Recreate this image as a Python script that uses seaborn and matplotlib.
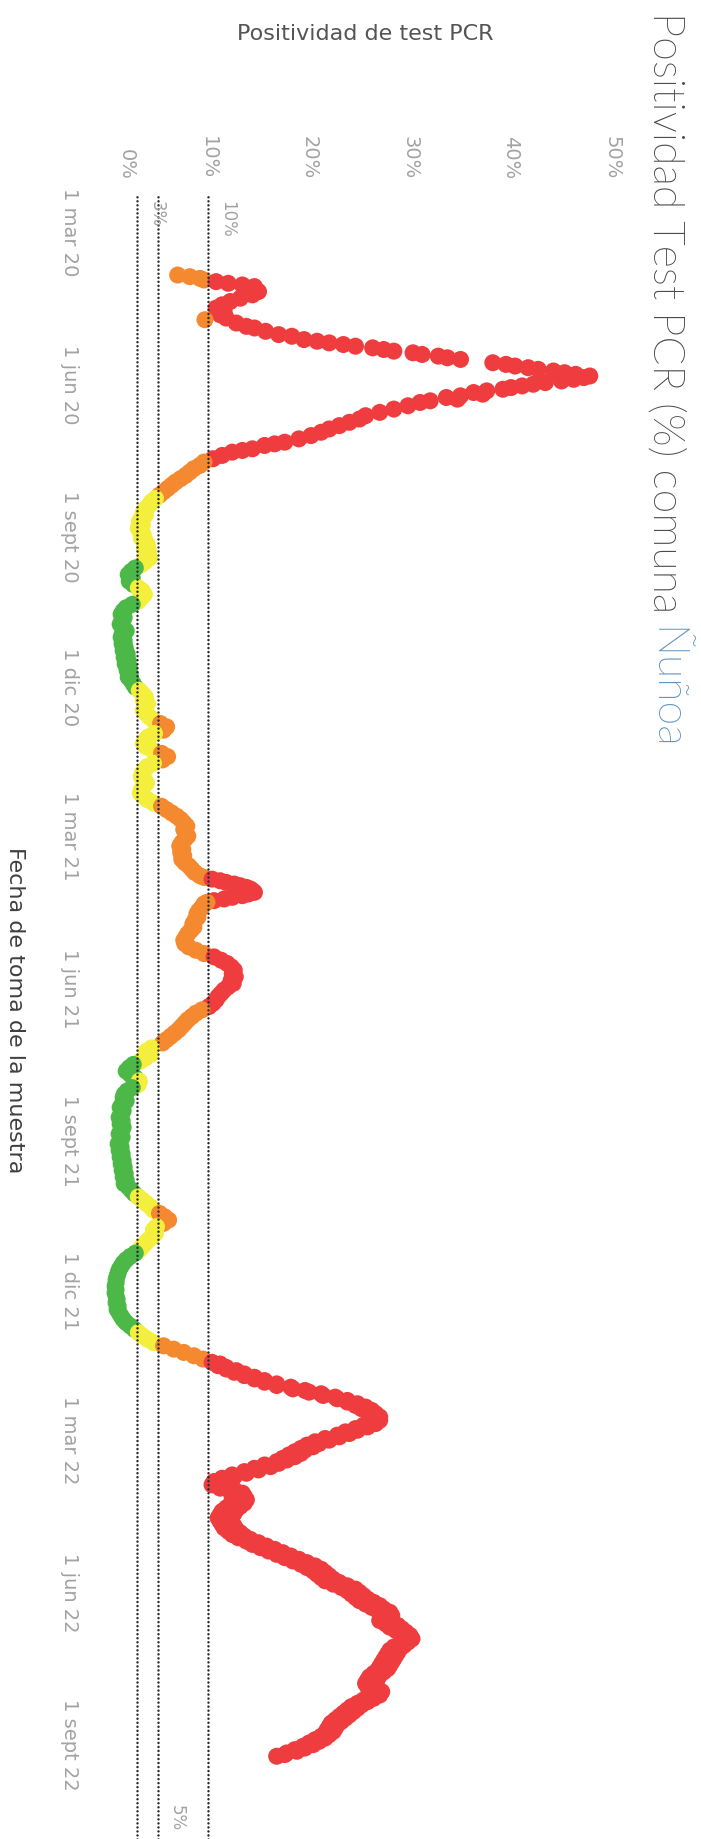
import numpy as np
import pandas as pd
import matplotlib
matplotlib.use("Agg")
import matplotlib.pyplot as plt
import matplotlib.dates as mdates
from matplotlib import font_manager as fm
import seaborn as sns

# ---------------- data ----------------
fecha_inicio = "2020-03-01"          # day 0 of the day offsets below

# first wave 2020 (irregular reporting)
dias_1 = [26, 27, 28, 29, 30, 31, 32, 33, 34, 36, 38, 40, 42, 44, 46, 48, 50, 52,
          53, 55, 57, 58, 60, 62, 63, 65, 66, 67, 68, 69, 70, 71, 72, 73, 74, 75,
          76, 77, 79, 80, 81, 82, 83, 84, 85, 86, 87, 88, 89, 90, 91, 92, 93, 94,
          95, 96, 97, 98, 99, 100, 101, 102, 103, 105, 107, 109, 111, 113, 115,
          117, 119, 121, 123, 125, 127, 128, 129, 131, 132, 133, 135, 137]
pos_1 = [7.0, 8.2, 9.2, 9.6, 10.8, 12.0, 13.4, 14.6, 14.2, 15.0, 14.4, 13.2, 12.2,
         11.4, 10.8, 11.6, 11.2, 11.8, 9.7, 12.8, 13.8, 14.6, 15.7, 17.0, 18.3,
         19.5, 20.8, 22.0, 23.4, 24.6, 26.3, 27.4, 28.4, 30.3, 31.2, 32.8, 33.7,
         35.0, 38.2, 39.5, 40.4, 41.7, 42.7, 44.2, 45.3, 46.4, 47.8, 47.2, 46.2,
         45.0, 43.4, 42.2, 41.1, 40.0, 39.2, 37.6, 36.3, 37.2, 35.0, 33.6, 34.7,
         32.0, 31.0, 29.8, 28.4, 27.0, 25.6, 25.0, 24.0, 23.0, 22.0, 21.2, 20.2,
         19.0, 17.6, 16.6, 15.6, 14.4, 13.4, 12.4, 11.4, 10.5]

# Jul 2020 - Nov 2020 (every second day)
dias_2 = list(range(139, 276, 2))
pos_2 = [9.6, 9.2, 8.6, 8.2, 7.8, 7.3, 6.8, 6.4, 6.0, 5.6,
         5.2, 4.8, 4.4, 4.2, 3.9, 3.6, 3.8, 3.4, 3.2, 3.5,
         3.1, 3.3, 3.6, 3.4, 3.8, 4.0, 3.7, 4.1, 3.9, 4.2,
         3.8, 3.4, 2.8, 2.4, 2.1, 2.5, 2.2, 2.6, 3.1, 3.5,
         3.7, 3.4, 3.1, 2.5, 1.9, 1.6, 1.4, 1.7, 1.5, 1.3,
         1.6, 1.9, 1.5, 1.4, 1.7, 1.5, 1.8, 1.6, 2.0, 1.7,
         2.1, 1.8, 2.2, 2.0, 2.3, 2.1, 2.4, 2.6, 2.8]

# Dec 2020 - Mar 2021
dias_3 = list(range(277, 390, 2))
pos_3 = [3.2, 3.5, 3.8, 3.6, 4.0, 3.8, 3.6, 3.9, 4.2, 4.6,
         5.3, 5.9, 5.6, 4.7, 4.1, 3.8, 3.6, 3.9, 4.5, 5.4,
         6.0, 5.5, 4.6, 4.0, 3.7, 3.5, 3.4, 3.7, 3.9, 3.6,
         3.4, 3.3, 3.6, 4.0, 4.6, 5.4, 5.9, 6.4, 6.9, 7.3,
         7.6, 7.9, 7.6, 7.8, 8.0, 7.7, 7.4, 7.2, 7.5, 7.3,
         7.6, 7.4, 7.7, 8.1, 8.4, 8.7, 9.2]

# Mar 2021 - Jul 2021 (daily around the March peak)
dias_4 = list(range(390, 407)) + list(range(408, 492, 2))
pos_4 = [9.6, 10.4, 11.2, 11.8, 12.6, 13.2, 13.8, 14.2, 14.4, 14.6,
         14.0, 13.4, 12.4, 11.6, 10.6, 9.9, 9.6,
         9.4, 9.1, 8.9, 9.0, 8.7, 8.5, 8.6, 8.3, 8.0, 7.8,
         7.6, 7.7, 8.1, 8.8, 9.6, 10.6, 11.3, 11.9, 12.3, 12.6,
         12.4, 12.7, 12.3, 12.5, 12.0, 11.6, 11.3, 11.0, 10.8, 10.5,
         10.1, 9.4, 8.8, 8.4, 8.0, 7.7, 7.4, 7.1, 6.7, 6.3,
         5.9, 5.5]

# Jul 2021 - Jan 2022
dias_5 = list(range(493, 682, 2))
pos_5 = [4.4, 3.9, 4.3, 3.8, 3.3, 2.6, 2.2, 1.9, 2.3, 2.8,
         3.2, 3.1, 2.5, 2.0, 1.7, 1.6, 1.9, 1.5, 1.3, 1.6,
         1.4, 1.2, 1.5, 1.3, 1.6, 1.4, 1.2, 1.5, 1.3, 1.1,
         1.4, 1.2, 1.5, 1.3, 1.6, 1.4, 1.7, 1.5, 1.8, 1.6,
         1.9, 1.7, 2.1, 2.4, 2.7, 3.1, 3.5, 3.9, 4.3, 4.6,
         5.2, 5.7, 6.1, 5.6, 4.9, 4.6, 4.8, 4.5, 4.1, 3.8,
         3.5, 3.2, 2.8, 2.3, 1.9, 1.6, 1.4, 1.2, 1.1, 1.0,
         0.9, 0.9, 0.8, 0.9, 0.8, 0.9, 1.0, 0.9, 1.1, 1.0,
         1.2, 1.4, 1.6, 1.9, 2.3, 2.7, 3.1, 3.5, 4.0, 4.6,
         5.6, 6.6, 7.6, 8.6, 9.5]

# 2022 (daily)
dias_6 = list(range(683, 922))
pos_6 = [10.4, 11.2, 11.0, 11.8, 11.8, 12.8, 12.6, 13.6, 13.6, 14.6,
         14.6, 15.6, 15.6, 16.8, 16.8, 18.2, 18.4, 19.6, 20.0, 21.2,
         21.4, 22.6, 22.8, 23.8, 23.8, 24.8, 24.6, 25.6, 25.2, 26.2,
         25.8, 26.6, 26.2, 27.0, 26.4, 27.0, 26.2, 26.6, 25.4, 25.8,
         24.6, 24.8, 23.6, 24.0, 22.8, 23.0, 21.6, 22.0, 20.6, 21.0,
         19.8, 20.4, 19.2, 19.6, 18.6, 19.2, 18.0, 18.6, 17.4, 17.8,
         16.8, 17.0, 15.6, 16.2, 14.6, 15.0, 13.6, 13.8, 12.4, 12.6,
         11.4, 11.8, 10.6, 11.2, 10.4, 11.6, 11.2, 12.6, 12.2, 13.4,
         12.6, 13.6, 12.4, 13.8, 12.6, 13.6, 12.2, 13.2, 11.8, 12.8,
         11.4, 12.6, 11.2, 12.4, 11.0, 12.2, 11.2, 12.4, 11.4, 12.6,
         11.6, 12.8, 12.0, 13.2, 12.4, 13.6, 13.0, 14.2, 13.8, 15.0,
         14.4, 15.8, 15.2, 16.6, 16.0, 17.4, 16.8, 18.2, 17.6, 19.0,
         18.4, 19.8, 19.2, 20.6, 19.8, 21.2, 20.4, 21.6, 20.8, 22.0,
         21.2, 22.4, 21.6, 23.0, 22.4, 23.8, 23.2, 24.6, 23.8, 25.0,
         24.2, 25.4, 24.6, 25.8, 25.0, 26.4, 25.6, 27.0, 26.2, 27.4,
         26.8, 28.0, 27.2, 28.2, 27.4, 27.8, 27.0, 28.2, 27.6, 28.8,
         28.0, 29.2, 28.6, 29.6, 29.2, 30.0, 29.4, 30.2, 29.6, 29.8,
         29.0, 29.4, 28.4, 29.0, 28.0, 28.8, 27.8, 28.6, 27.6, 28.4,
         27.4, 28.2, 27.2, 28.0, 27.0, 27.8, 26.8, 27.4, 26.4, 27.0,
         26.0, 26.8, 25.8, 26.6, 25.6, 26.6, 25.8, 26.8, 26.2, 27.2,
         26.4, 27.0, 26.0, 26.4, 25.4, 25.8, 24.8, 25.2, 24.2, 24.8,
         23.8, 24.4, 23.4, 24.0, 23.0, 23.6, 22.6, 23.2, 22.2, 22.8,
         22.0, 22.6, 21.8, 22.4, 21.6, 22.0, 21.2, 21.6, 20.6, 21.0,
         20.0, 20.4, 19.4, 19.6, 18.6, 18.8, 17.8, 17.6, 16.8]

ticks_fecha = ["2020-03-01", "2020-06-01", "2020-09-01", "2020-12-01",
               "2021-03-01", "2021-06-01", "2021-09-01", "2021-12-01",
               "2022-03-01", "2022-06-01", "2022-09-01"]
etiquetas_fecha = ["1 mar 20", "1 jun 20", "1 sept 20", "1 dic 20",
                   "1 mar 21", "1 jun 21", "1 sept 21", "1 dic 21",
                   "1 mar 22", "1 jun 22", "1 sept 22"]
ticks_pct = [0, 10, 20, 30, 40, 50]
etiquetas_pct = ["0%", "10%", "20%", "30%", "40%", "50%"]
lineas_ref = [3, 5, 10]
etiquetas_ref = ["3%", "5%", "10%"]
niveles = ["verde", "amarillo", "naranja", "rojo"]
umbrales = [3, 5, 10]

# ---------------- table ----------------
dias = dias_1 + dias_2 + dias_3 + dias_4 + dias_5 + dias_6
pos = pos_1 + pos_2 + pos_3 + pos_4 + pos_5 + pos_6
assert len(dias) == len(pos)
t0 = pd.Timestamp(fecha_inicio)
df = pd.DataFrame({
    "fecha": t0 + pd.to_timedelta(dias, unit="D"),
    "positividad": pos,
})
df["nivel"] = np.select(
    [df["positividad"] < umbrales[0], df["positividad"] < umbrales[1],
     df["positividad"] < umbrales[2]],
    niveles[:3], niveles[3])
df["fecha_num"] = mdates.date2num(df["fecha"].dt.to_pydatetime())

paleta = {"verde": "#4cb848", "amarillo": "#f3ef3c",
          "naranja": "#f5892f", "rojo": "#ef3d3f"}

# ---------------- fonts ----------------
sns.set_style("white")
plt.rcParams["font.family"] = ["DejaVu Sans"]


def find_light():
    for fam in ["Lato", "Open Sans", "Roboto", "Noto Sans", "Inter", "DejaVu Sans"]:
        for f in fm.fontManager.ttflist:
            w = f.weight
            if not isinstance(w, (int, float)):
                w = fm.weight_dict.get(w, 400)
            if f.name == fam and 200 <= w <= 350 and f.style == "normal":
                return fam, int(w)
    return "DejaVu Sans", 400


light_fam, light_w = find_light()
light_font = dict(family=light_fam, weight=light_w)

# ---------------- figure ----------------
W, H = 701, 1839
fig = plt.figure(figsize=(W / 100, H / 100), dpi=100)
fig.patch.set_facecolor("white")
ax_left, ax_right, ax_top = 92, 660, 195
ax = fig.add_axes([ax_left / W, 0, (ax_right - ax_left) / W, 1 - ax_top / H])

sns.scatterplot(data=df, x="positividad", y="fecha_num", hue="nivel",
                palette=paleta, s=150, linewidth=0, alpha=1,
                legend=False, ax=ax, zorder=2)

# axes ranges: 0% at x=107 px, 10.1 px per %; day 0 at y=232 px, 1.655 px/day
px_per_pct, x0_px = 10.1, 107
px_per_day, y0_px = 1.655, 232
ax.set_xlim((ax_left - x0_px) / px_per_pct, (ax_right - x0_px) / px_per_pct)
d_top = (ax_top - y0_px) / px_per_day
d_bot = (H - y0_px) / px_per_day
t0n = mdates.date2num(t0.to_pydatetime())
ax.set_ylim(t0n + d_bot, t0n + d_top)

for s in ax.spines.values():
    s.set_visible(False)
ax.grid(False)

tick_color = "#a2a2a2"
tick_fs = 14
# percent axis on top, labels rotated (0% label shifted inward like the original)
ax.xaxis.tick_top()
ax.set_xticks(ticks_pct)
ax.set_xticklabels([""] + etiquetas_pct[1:], rotation=-90, ha="center",
                   va="bottom", fontsize=tick_fs, color=tick_color)
ax.tick_params(axis="x", length=0, pad=11)
ax.annotate(etiquetas_pct[0], xy=(ticks_pct[0], 1),
            xycoords=("data", "axes fraction"), xytext=(14, 11),
            textcoords="offset points", rotation=-90, ha="center", va="bottom",
            fontsize=tick_fs, color=tick_color, annotation_clip=False)
ax.set_xlabel("")

# date axis
ax.set_yticks([mdates.date2num(pd.Timestamp(f).to_pydatetime()) for f in ticks_fecha])
ax.set_yticklabels(etiquetas_fecha, rotation=-90, ha="right", va="center",
                   fontsize=tick_fs, color=tick_color)
ax.tick_params(axis="y", length=0, pad=9)
ax.set_ylabel("")

# reference lines
for v in lineas_ref:
    ax.axvline(v, color="#2a2a2a", lw=1.8, ls=(0, (0.01, 1.6)),
               dash_capstyle="round", zorder=3)
for v, lab in zip(lineas_ref, etiquetas_ref):
    if v == 5:
        ax.annotate(lab, xy=(v, 0), xycoords=("data", "axes fraction"),
                    xytext=(14, 6), textcoords="offset points", rotation=-90,
                    ha="center", va="bottom", fontsize=12, color=tick_color)
    else:
        ax.annotate(lab, xy=(v, 1), xycoords=("data", "axes fraction"),
                    xytext=(14, -4), textcoords="offset points", rotation=-90,
                    ha="center", va="top", fontsize=12, color=tick_color)

# titles
title_fs = 25
t1 = fig.text(665 / W, 1 - 12 / H, "Positividad Test PCR (%) comuna",
              rotation=-90, ha="center", va="top", fontsize=title_fs,
              color="#4a4a4a", **light_font)
t2 = ax.annotate("Ñuñoa", xy=(0.5, 0), xycoords=t1, xytext=(0, -8),
                 textcoords="offset points", rotation=-90, ha="center",
                 va="top", fontsize=title_fs, color="#5f93c0",
                 annotation_clip=False, **light_font)
# fit the title to its length in the original (about 738 px)
fig.canvas.draw()
r = fig.canvas.get_renderer()
top = t1.get_window_extent(r).y1
bot = t2.get_window_extent(r).y0
scale = 738 / (top - bot)
t1.set_fontsize(title_fs * scale)
t2.set_fontsize(title_fs * scale)
t2.xyann = (0, -8 * scale)

fig.text(365 / W, 1 - 34 / H, "Positividad de test PCR", ha="center",
         va="center", fontsize=16, color="#555555")
fig.text(15 / W, 1 - 1010 / H, "Fecha de toma de la muestra", rotation=-90,
         ha="center", va="center", fontsize=16, color="#3f3f3f")

fig.savefig("out.png", dpi=100, facecolor="white")
